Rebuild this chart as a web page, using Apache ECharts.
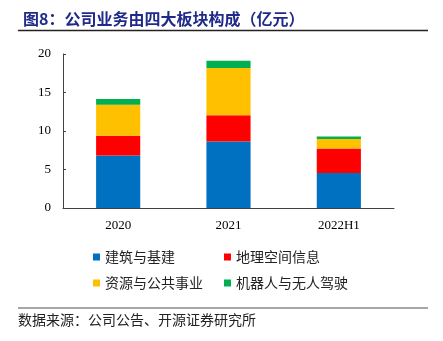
<!DOCTYPE html>
<html><head><meta charset="utf-8">
<script src="https://cdn.jsdelivr.net/npm/echarts@6/dist/echarts.min.js"></script>
<style>html,body{margin:0;padding:0;background:#fff}#c{width:443px;height:341px}</style>
</head><body><div id="c"></div>
<script>
const categories = ['2020', '2021', '2022H1'];
const seriesNames = ['建筑与基建', '地理空间信息', '资源与公共事业', '机器人与无人驾驶'];
const construction = [6.83, 8.65, 4.55];
const geospatial = [2.56, 3.38, 3.19];
const resources = [4.03, 6.15, 1.22];
const robotics = [0.73, 0.95, 0.34];
const yTicks = [0, 5, 10, 15, 20];
const colors = ['#0070C0', '#FF0000', '#FFC000', '#00B050'];
const values = [construction, geospatial, resources, robotics];

const chart = echarts.init(document.getElementById('c'), null, {renderer: 'canvas'});
const cjk = '"Noto Sans CJK SC", sans-serif';
const serif = '"Liberation Serif", "DejaVu Serif", serif';
const legendPos = [[93, 250], [224, 250], [93, 276], [224, 276]];
chart.setOption({
  animation: false,
  grid: {left: 63, right: 49, top: 54, bottom: 133},
  title: {
    text: '图8：公司业务由四大板块构成（亿元）',
    left: 18, top: 6,
    textStyle: {fontFamily: cjk, fontSize: 16, fontWeight: 'bold', color: '#1F2A8A'}
  },
  legend: seriesNames.map((n, i) => ({
    data: [n], left: legendPos[i][0], top: legendPos[i][1], padding: 0,
    itemWidth: 7, itemHeight: 7, itemGap: 5, icon: 'rect',
    textStyle: {fontFamily: cjk, fontSize: 14, color: '#222'}
  })),
  xAxis: {
    type: 'category', data: categories,
    axisLine: {lineStyle: {color: '#404040', width: 1}},
    axisTick: {inside: true, length: 4, lineStyle: {color: '#404040'}},
    axisLabel: {fontFamily: serif, fontSize: 13, color: '#000', margin: 11}
  },
  yAxis: {
    type: 'value', min: yTicks[0], max: yTicks[yTicks.length - 1], interval: yTicks[1] - yTicks[0],
    axisLine: {show: true, lineStyle: {color: '#404040', width: 1}},
    axisTick: {show: true, inside: true, length: 3, lineStyle: {color: '#404040'}},
    splitLine: {show: false},
    axisLabel: {fontFamily: serif, fontSize: 13, color: '#000', margin: 12}
  },
  series: seriesNames.map((n, i) => ({
    name: n, type: 'bar', stack: 'total', data: values[i], barWidth: '40%',
    itemStyle: {color: colors[i]}
  })),
  graphic: [
    {type: 'line', shape: {x1: 18, y1: 30.5, x2: 428, y2: 30.5}, style: {stroke: '#222', lineWidth: 1.5}},
    {type: 'line', shape: {x1: 18, y1: 308, x2: 428, y2: 308}, style: {stroke: '#888', lineWidth: 1.5}},
    {type: 'text', left: 18, top: 313, style: {text: '数据来源：公司公告、开源证券研究所', font: '14px "Noto Sans CJK SC"', fill: '#222'}}
  ]
});
</script></body></html>
